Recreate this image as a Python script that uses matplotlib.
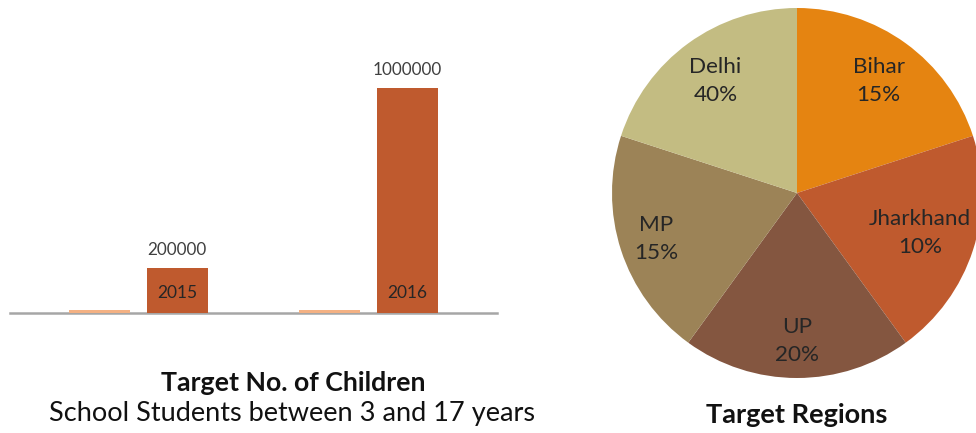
import matplotlib
matplotlib.use("Agg")
import matplotlib.pyplot as plt
import numpy as np

# ---- data ----
years = ["2015", "2016"]
series_small = [13000, 13000]
series_target = [200000, 1000000]
value_labels = ["200000", "1000000"]

regions = ["Bihar", "Jharkhand", "UP", "MP", "Delhi"]
region_sizes = [1, 1, 1, 1, 1]
region_pct = ["15%", "10%", "20%", "15%", "40%"]
region_colors = ["#E58411", "#BF5A2E", "#845640", "#9C8357", "#C3BC82"]

plt.rcParams['font.family'] = ['Lato', 'DejaVu Sans']
W, H = 976, 433
fig = plt.figure(figsize=(W / 100, H / 100), dpi=100)
fig.patch.set_facecolor("white")

# ---- bar chart ----
ax = fig.add_axes([10 / W, (H - 313) / H, 487 / W, 293 / H])
x = np.arange(len(years))
bw = 0.265
ax.bar(x - 0.167, series_small, bw, color="#F4B183", zorder=2)
bars = ax.bar(x + 0.17, series_target, bw, color="#BF5A2E", zorder=2)
ax.set_xlim(-0.557, 1.561)
ax.set_ylim(0, 1e6 * 293 / 225)
for s in ["top", "right", "left"]:
    ax.spines[s].set_visible(False)
ax.spines["bottom"].set_color("#A6A6A6")
ax.spines["bottom"].set_linewidth(1.8)
ax.spines["bottom"].set_zorder(1)
ax.set_xticks([])
ax.set_yticks([])
for b, yr, lab in zip(bars, years, value_labels):
    cx = b.get_x() + b.get_width() / 2
    ax.text(cx, b.get_height() + 1e6 * 10 / 225, lab, ha="center", va="bottom",
            fontsize=12.3, color="#404040")
    ax.text(cx, 1e6 * 20 / 225, yr, ha="center", va="center",
            fontsize=12.5, color="#262626")

fig.text(293 / W, 1 - 383 / H, "Target No. of Children", ha="center", va="center",
         fontsize=19.3, fontweight="bold", color="#111111")
fig.text(292 / W, 1 - 413 / H, "School Students between 3 and 17 years", ha="center",
         va="center", fontsize=19.5, color="#111111")

# ---- pie chart ----
r_px = 185
cx_px, cy_px = 797, 193
pax = fig.add_axes([(cx_px - r_px) / W, (H - cy_px - r_px) / H, 2 * r_px / W, 2 * r_px / H])
wedges, _ = pax.pie(region_sizes, colors=region_colors, startangle=90, counterclock=False,
                    wedgeprops=dict(linewidth=0))
pax.set_xlim(-1, 1)
pax.set_ylim(-1, 1)
pax.set_aspect("equal")
pax.axis("off")
for w in wedges:
    w.set_clip_on(False)
dists = [0.75, 0.70, 0.80, 0.80, 0.75]
for w, name, pct, d in zip(wedges, regions, region_pct, dists):
    th = np.deg2rad((w.theta1 + w.theta2) / 2)
    pax.text(d * np.cos(th), d * np.sin(th), f"{name}\n{pct}", ha="center", va="center",
             fontsize=16.2, color="#262626", linespacing=1.5)

fig.text(cx_px / W, 1 - 415 / H, "Target Regions", ha="center", va="center",
         fontsize=19.5, fontweight="bold", color="#111111")

fig.savefig("out.png", dpi=100, facecolor="white")
